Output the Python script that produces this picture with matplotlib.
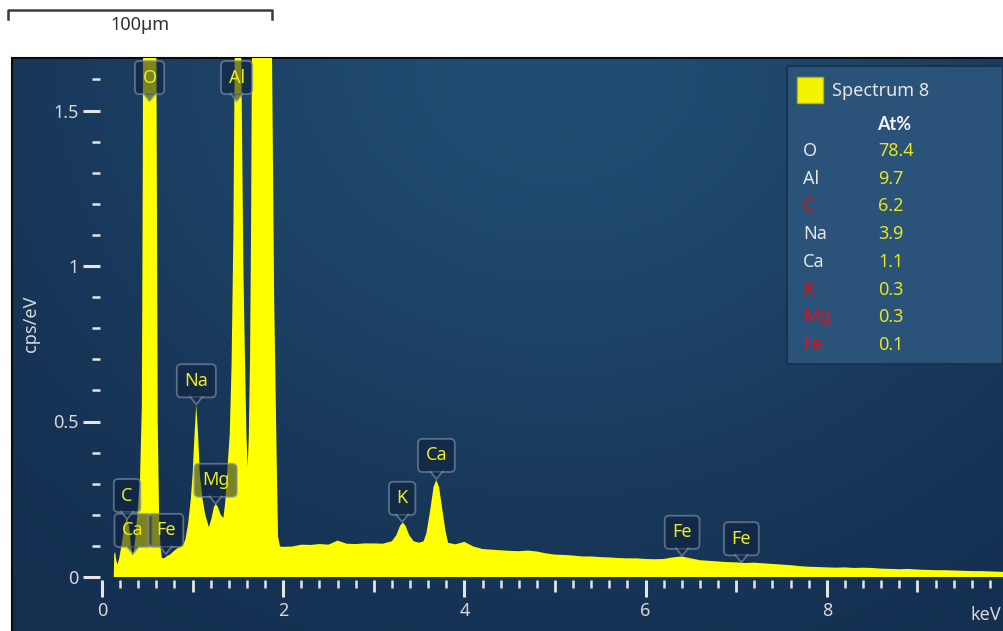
import numpy as np
import matplotlib.pyplot as plt
from matplotlib.patches import Polygon, Rectangle
from matplotlib.lines import Line2D
from matplotlib.transforms import IdentityTransform

plt.rcParams['font.family'] = ['Noto Sans', 'DejaVu Sans']

W, H = 1004, 631

# EDS spectrum (keV, cps/eV)
energy = [0.12, 0.13, 0.135, 0.145, 0.16, 0.17, 0.19, 0.22, 0.25, 0.275,
          0.30, 0.32, 0.335, 0.35, 0.37, 0.39, 0.42, 0.44, 0.45, 0.46,
          0.48, 0.525, 0.57, 0.59, 0.605, 0.615, 0.63, 0.645, 0.66, 0.68,
          0.70, 0.72, 0.75, 0.78, 0.82, 0.86, 0.89, 0.92, 0.95, 0.98,
          1.00, 1.02, 1.04, 1.06, 1.08, 1.11, 1.14, 1.18, 1.21, 1.235,
          1.255, 1.28, 1.31, 1.34, 1.36, 1.38, 1.41, 1.43, 1.45, 1.468,
          1.50, 1.535, 1.56, 1.578, 1.595, 1.608, 1.62, 1.634, 1.645, 1.656,
          1.70, 1.75, 1.80, 1.854, 1.876, 1.90, 1.928, 1.943, 1.965, 2.0,
          2.1, 2.2, 2.3, 2.4, 2.5, 2.6, 2.7, 2.8, 2.9, 3.0,
          3.1, 3.2, 3.25, 3.29, 3.32, 3.35, 3.39, 3.44, 3.5, 3.55,
          3.58, 3.62, 3.66, 3.69, 3.72, 3.76, 3.79, 3.82, 3.9, 4.0,
          4.1, 4.2, 4.3, 4.4, 4.5, 4.6, 4.7, 4.8, 4.9, 5.0,
          5.1, 5.2, 5.3, 5.4, 5.5, 5.6, 5.7, 5.8, 5.9, 6.0,
          6.1, 6.2, 6.3, 6.4, 6.5, 6.6, 6.7, 6.8, 6.9, 7.0,
          7.1, 7.2, 7.3, 7.4, 7.5, 7.6, 7.7, 7.8, 7.9, 8.0,
          8.1, 8.2, 8.3, 8.4, 8.5, 8.6, 8.7, 8.8, 8.9, 9.0,
          9.1, 9.2, 9.3, 9.4, 9.5, 9.6, 9.7, 9.8, 9.9, 10.0]
cps = [0.0, 0.0, 0.075, 0.08, 0.05, 0.04, 0.06, 0.11, 0.17, 0.19,
       0.16, 0.10, 0.07, 0.08, 0.13, 0.20, 0.32, 0.55, 1.3, 2.6,
       5.0, 7.0, 5.0, 2.6, 1.3, 0.5, 0.2, 0.1, 0.062, 0.06,
       0.063, 0.068, 0.072, 0.08, 0.09, 0.097, 0.10, 0.12, 0.17, 0.25,
       0.33, 0.45, 0.555, 0.46, 0.33, 0.25, 0.20, 0.16, 0.19, 0.225,
       0.235, 0.225, 0.20, 0.19, 0.24, 0.33, 0.46, 0.68, 1.1, 1.8,
       3.5, 1.75, 1.0, 0.7, 0.45, 0.354, 0.45, 0.70, 1.1, 1.75,
       5.0, 8.0, 5.0, 1.75, 1.7, 0.9, 0.38, 0.13, 0.098, 0.097,
       0.098, 0.104, 0.103, 0.106, 0.104, 0.117, 0.107, 0.106, 0.108, 0.108,
       0.107, 0.115, 0.135, 0.165, 0.175, 0.165, 0.135, 0.115, 0.11, 0.115,
       0.14, 0.21, 0.29, 0.312, 0.29, 0.21, 0.15, 0.11, 0.105, 0.113,
       0.098, 0.09, 0.088, 0.086, 0.084, 0.083, 0.085, 0.082, 0.076, 0.072,
       0.071, 0.069, 0.066, 0.066, 0.064, 0.063, 0.061, 0.060, 0.060, 0.058,
       0.057, 0.058, 0.063, 0.066, 0.060, 0.054, 0.052, 0.050, 0.048, 0.047,
       0.045, 0.046, 0.044, 0.042, 0.040, 0.038, 0.035, 0.033, 0.032, 0.031,
       0.030, 0.031, 0.029, 0.030, 0.029, 0.027, 0.026, 0.025, 0.026, 0.024,
       0.023, 0.022, 0.022, 0.021, 0.020, 0.019, 0.019, 0.018, 0.017, 0.016]

# peak markers: element, line energy (keV), marker tip height (cps/eV)
peak_names = ['O', 'Al', 'C', 'Ca', 'Fe', 'Na', 'Mg', 'K', 'Ca', 'Fe', 'Fe']
peak_kev = [0.525, 1.486, 0.277, 0.341, 0.705, 1.041, 1.254, 3.313, 3.691, 6.403, 7.057]
peak_tip = [1.53, 1.53, 0.186, 0.074, 0.074, 0.555, 0.235, 0.177, 0.315, 0.068, 0.047]

# quantification result
quant_el = ['O', 'Al', 'C', 'Na', 'Ca', 'K', 'Mg', 'Fe']
quant_at = [78.4, 9.7, 6.2, 3.9, 1.1, 0.3, 0.3, 0.1]
quant_flag = [False, False, True, False, False, True, True, True]

YELLOW = '#ffff00'
TICK = '#e4e4e4'


def fx(px):
    return px / W


def fy(py):
    return 1 - py / H


fig = plt.figure(figsize=(W / 100, H / 100), dpi=100, facecolor='white')
panel = [fx(12), 0, 1 - fx(12), fy(58)]

# background panel with soft glow
bg = fig.add_axes(panel, zorder=0)
yy, xx = np.mgrid[0:1:300j, 0:1:500j]
d = ((xx - 0.55) / 0.6) ** 2 + (yy / 0.9) ** 2
t = np.exp(-1.3 * d)[..., None]
base = np.array([19, 44, 77]) / 255
glow = np.array([33, 77, 114]) / 255
bg.imshow(base + (glow - base) * t, aspect='auto', extent=[0, 1, 0, 1], origin='upper')
bg.set_xticks([])
bg.set_yticks([])
for side in ['right', 'bottom']:
    bg.spines[side].set_visible(False)
for side in ['left', 'top']:
    bg.spines[side].set_color('#0a0a0a')
    bg.spines[side].set_linewidth(1.5)

ax = fig.add_axes(panel, zorder=1)
ax.patch.set_alpha(0)
ax.set_xlim((12 - 102) / 90.6, (W - 102) / 90.6)
ax.set_ylim((577 - 631) / 311, (577 - 58) / 311)

ax.fill_between(energy, cps, 0, color=YELLOW, lw=0, zorder=2)

# axes ticks
for side in ['top', 'right']:
    ax.spines[side].set_visible(False)
ax.spines['bottom'].set_position(('data', -0.0096))
ax.spines['left'].set_position(('data', -0.022))
ax.spines['bottom'].set_color('none')
ax.spines['left'].set_color('none')

ax.set_xticks([0, 2, 4, 6, 8], ['0', '2', '4', '6', '8'])
ax.set_xticks([v / 5 for v in range(1, 50) if v % 5 != 0], minor=True)
ax.set_yticks([0, 0.5, 1, 1.5], ['0', '0.5', '1', '1.5'])
ax.set_yticks([v / 10 for v in range(1, 17) if v % 5 != 0], minor=True)
ax.tick_params(which='major', direction='out', length=12.2, width=2.2,
               color=TICK, labelcolor='#d8d8d8', labelsize=13)
ax.tick_params(which='minor', direction='out', length=5.8, width=1.8, color=TICK)
ax.tick_params(axis='x', which='major', pad=4)
ax.tick_params(axis='y', which='major', pad=3)
ax.vlines([1, 3, 5, 7, 9], -0.0096, -0.0096 - 12 / 311, color=TICK, lw=2.0,
          clip_on=False, zorder=3)

fig.text(fx(1001), fy(615), 'keV', ha='right', va='center', color='#d8d8d8', size=13)
fig.text(fx(31), fy(324), 'cps/eV', ha='center', va='center', rotation=90,
         color='#d8d8d8', size=13)

# peak markers with pointer
box_fc = (0.06, 0.12, 0.23, 0.55)
box_ec = (0.50, 0.57, 0.66, 0.65)
for name, e, tip in zip(peak_names, peak_kev, peak_tip):
    ax.annotate(name, xy=(e, tip), xytext=(0, 14.6), textcoords='offset pixels',
                ha='center', va='bottom', color='#ecec1c', size=13, zorder=5,
                bbox=dict(boxstyle='round,pad=0.42,rounding_size=0.25',
                          fc=box_fc, ec=box_ec, lw=1.3))
    xd, yd = ax.transData.transform((e, tip))
    tri = Polygon([(xd - 6, yd + 7.5), (xd, yd), (xd + 6, yd + 7.5)], closed=True,
                  fc=box_fc, ec='none', transform=IdentityTransform(), zorder=5)
    fig.add_artist(tri)
    fig.add_artist(Line2D([xd - 6, xd, xd + 6], [yd + 7.5, yd, yd + 7.5], color=box_ec,
                          lw=1.3, transform=IdentityTransform(), zorder=5))

# result table
fig.add_artist(Rectangle((fx(787), fy(364)), fx(1003) - fx(787), fy(66) - fy(364),
                         transform=fig.transFigure, fc='#2b5279', ec='#183450',
                         lw=1.5, zorder=6))
fig.add_artist(Rectangle((fx(797), fy(103)), fx(26), fy(77) - fy(103),
                         transform=fig.transFigure, fc='#f4f400', ec='#b8b800',
                         lw=1.0, zorder=7))
fig.text(fx(832), fy(91), 'Spectrum 8', va='center', color='#e6e6e6', size=13, zorder=7)
fig.text(fx(877), fy(125), 'At%', va='center', color='#f2f2f2', size=13,
         weight='bold', family=['Lato', 'DejaVu Sans'], zorder=7)
for i, (el, at, flag) in enumerate(zip(quant_el, quant_at, quant_flag)):
    row_y = 151 + i * 27.7
    fig.text(fx(803), fy(row_y), el, va='center', size=13, zorder=7,
             color='#e0101a' if flag else '#e6e6e6')
    fig.text(fx(878), fy(row_y), f'{at:.1f}', va='center', size=13, zorder=7,
             color='#e6e61c')

# scale bar
fig.add_artist(Line2D([fx(8), fx(8), fx(272), fx(272)], [fy(19), fy(10), fy(10), fy(19)],
                      transform=fig.transFigure, color='#3a3a3a', lw=1.8))
fig.text(fx(140), fy(25), '100µm', ha='center', va='center', color='#303030', size=13)

fig.savefig('out.png', dpi=100, facecolor='white')
